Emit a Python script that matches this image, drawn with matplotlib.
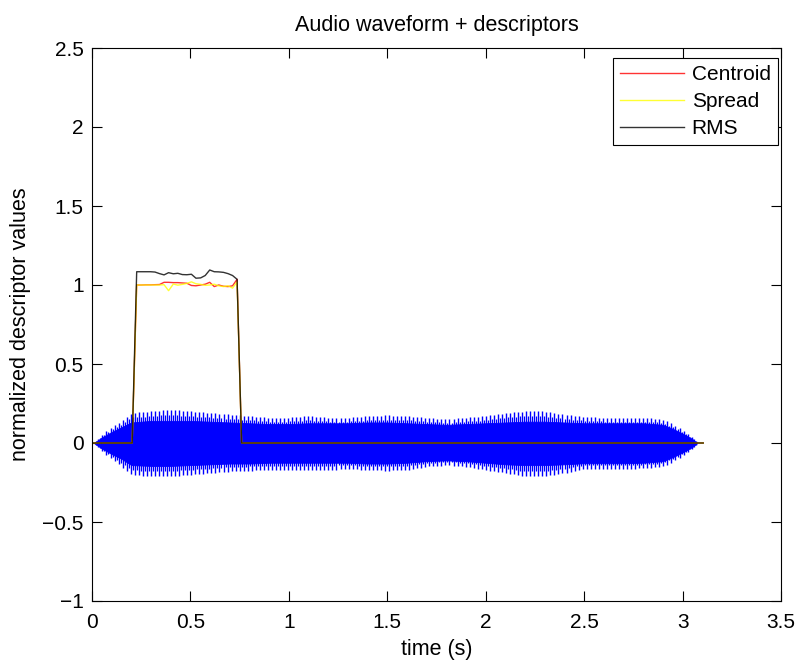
import numpy as np
import matplotlib
matplotlib.use("Agg")
import matplotlib.pyplot as plt

plt.rcParams['font.family'] = ['Liberation Sans', 'DejaVu Sans']

# ---------------- data ----------------
# descriptor frame times (s) and values
desc_t = [0.0, 0.204,
          0.227, 0.250, 0.273, 0.297, 0.320, 0.343, 0.366, 0.389, 0.413, 0.436,
          0.459, 0.482, 0.505, 0.528, 0.552, 0.575, 0.598, 0.621, 0.644, 0.668,
          0.691, 0.714, 0.737,
          0.760, 3.105]
centroid = [0.0, 0.0,
            1.000, 1.000, 1.001, 1.001, 1.002, 1.003, 1.017, 1.017, 1.015, 1.015,
            1.013, 1.011, 0.997, 0.995, 1.000, 1.005, 1.017, 0.990, 1.000, 0.992,
            0.990, 0.995, 1.036,
            0.0, 0.0]
spread = [0.0, 0.0,
          1.000, 1.000, 1.000, 1.000, 1.000, 1.000, 1.002, 0.964, 1.006, 0.999,
          1.004, 1.010, 1.020, 1.008, 1.004, 0.998, 1.000, 1.005, 0.995, 0.990,
          0.995, 0.980, 1.020,
          0.0, 0.0]
rms = [0.0, 0.0,
       1.084, 1.084, 1.084, 1.084, 1.082, 1.072, 1.064, 1.078, 1.071, 1.074,
       1.066, 1.065, 1.068, 1.043, 1.045, 1.060, 1.095, 1.084, 1.083, 1.080,
       1.072, 1.060, 1.036,
       0.0, 0.0]

# waveform envelope (s, amplitude)
env_t = [0.00, 0.01, 0.05, 0.10, 0.15, 0.20, 0.30, 0.40, 0.50, 0.60, 0.70, 0.80,
         0.90, 1.00, 1.10, 1.20, 1.30, 1.40, 1.50, 1.60, 1.70, 1.80, 1.90, 2.00,
         2.10, 2.20, 2.30, 2.40, 2.50, 2.60, 2.70, 2.80, 2.90, 2.95, 3.00, 3.05,
         3.075]
peak_up = [0.0, 0.0, 0.05, 0.10, 0.14, 0.19, 0.20, 0.21, 0.20, 0.19, 0.18, 0.17,
           0.16, 0.16, 0.17, 0.16, 0.16, 0.17, 0.175, 0.17, 0.16, 0.15, 0.16, 0.17,
           0.19, 0.20, 0.20, 0.18, 0.165, 0.16, 0.16, 0.16, 0.15, 0.12, 0.08, 0.035,
           0.0]
peak_dn = [0.0, 0.0, 0.05, 0.10, 0.15, 0.20, 0.21, 0.21, 0.20, 0.19, 0.18, 0.175,
           0.17, 0.17, 0.17, 0.17, 0.165, 0.17, 0.175, 0.17, 0.15, 0.14, 0.15, 0.17,
           0.19, 0.21, 0.21, 0.19, 0.165, 0.165, 0.165, 0.16, 0.15, 0.12, 0.08, 0.035,
           0.0]
core_up = [0.0, 0.0, 0.035, 0.07, 0.10, 0.13, 0.14, 0.14, 0.14, 0.135, 0.13, 0.125,
           0.12, 0.12, 0.125, 0.125, 0.125, 0.13, 0.13, 0.125, 0.12, 0.115, 0.12, 0.125,
           0.13, 0.135, 0.135, 0.13, 0.125, 0.125, 0.125, 0.125, 0.115, 0.09, 0.06, 0.025,
           0.0]
core_dn = [0.0, 0.0, 0.035, 0.07, 0.10, 0.14, 0.145, 0.145, 0.14, 0.135, 0.13, 0.13,
           0.125, 0.125, 0.125, 0.125, 0.125, 0.13, 0.13, 0.125, 0.115, 0.11, 0.115, 0.125,
           0.135, 0.14, 0.14, 0.135, 0.128, 0.128, 0.128, 0.125, 0.115, 0.09, 0.06, 0.025,
           0.0]
pitch_period = 0.0205  # spacing of waveform peaks (s)

xticks = [0, 0.5, 1, 1.5, 2, 2.5, 3, 3.5]
yticks = [-1, -0.5, 0, 0.5, 1, 1.5, 2, 2.5]
xticklabels = ['0', '0.5', '1', '1.5', '2', '2.5', '3', '3.5']
yticklabels = ['\u22121', '\u22120.5', '0', '0.5', '1', '1.5', '2', '2.5']

# ---------------- figure ----------------
fig = plt.figure(figsize=(8.11, 6.60), dpi=100)
ax = fig.add_axes([92/811, 59/660, (781-92)/811, (601-48)/660])

blue = '#0000ff'
et = np.array(env_t)
ax.fill_between(et, -np.array(core_dn), np.array(core_up), color=blue, lw=0.6,
                edgecolor=blue)
pk_t = np.arange(0.012, 3.075, pitch_period)
ax.vlines(pk_t, -np.interp(pk_t, et, peak_dn), np.interp(pk_t, et, peak_up),
          color=blue, lw=1.0)
# intermediate secondary peaks
pk2 = pk_t + pitch_period / 2
pk2 = pk2[pk2 < 3.075]
ax.vlines(pk2, -np.interp(pk2, et, peak_dn) * 0.85, np.interp(pk2, et, peak_up) * 0.85,
          color=blue, lw=0.9)

lw = 1.0
ax.plot(desc_t, centroid, color='#ff0000', lw=lw, alpha=0.8, label='Centroid')
ax.plot(desc_t, spread, color='#ffff00', lw=lw, alpha=0.8, label='Spread')
ax.plot(desc_t, rms, color='#000000', lw=lw, alpha=0.8, label='RMS')

ax.set_xlim(0, 3.5)
ax.set_ylim(-1, 2.5)
ax.set_xticks(xticks)
ax.set_xticklabels(xticklabels)
ax.set_yticks(yticks)
ax.set_yticklabels(yticklabels)
ax.tick_params(direction='in', length=7, width=0.8, top=True, right=True,
               labelsize=15, pad=6)
ax.tick_params(axis='x', pad=9)
for s in ax.spines.values():
    s.set_linewidth(0.8)

ax.set_title('Audio waveform + descriptors', fontsize=15.5, pad=12)
ax.set_xlabel('time (s)', fontsize=15.5, labelpad=5)
ax.set_ylabel('normalized descriptor values', fontsize=15.5, labelpad=8)

leg = ax.legend(loc='upper right', bbox_to_anchor=(778/811, (660-58)/660),
                bbox_transform=fig.transFigure, borderaxespad=0, fancybox=False,
                framealpha=1, edgecolor='black', fontsize=15, handlelength=3.1,
                handletextpad=0.35, labelspacing=0.38, borderpad=0.35)
leg.get_frame().set_linewidth(0.8)
for h in leg.get_lines():
    h.set_linewidth(1.0)

fig.savefig('out.png', dpi=100)
